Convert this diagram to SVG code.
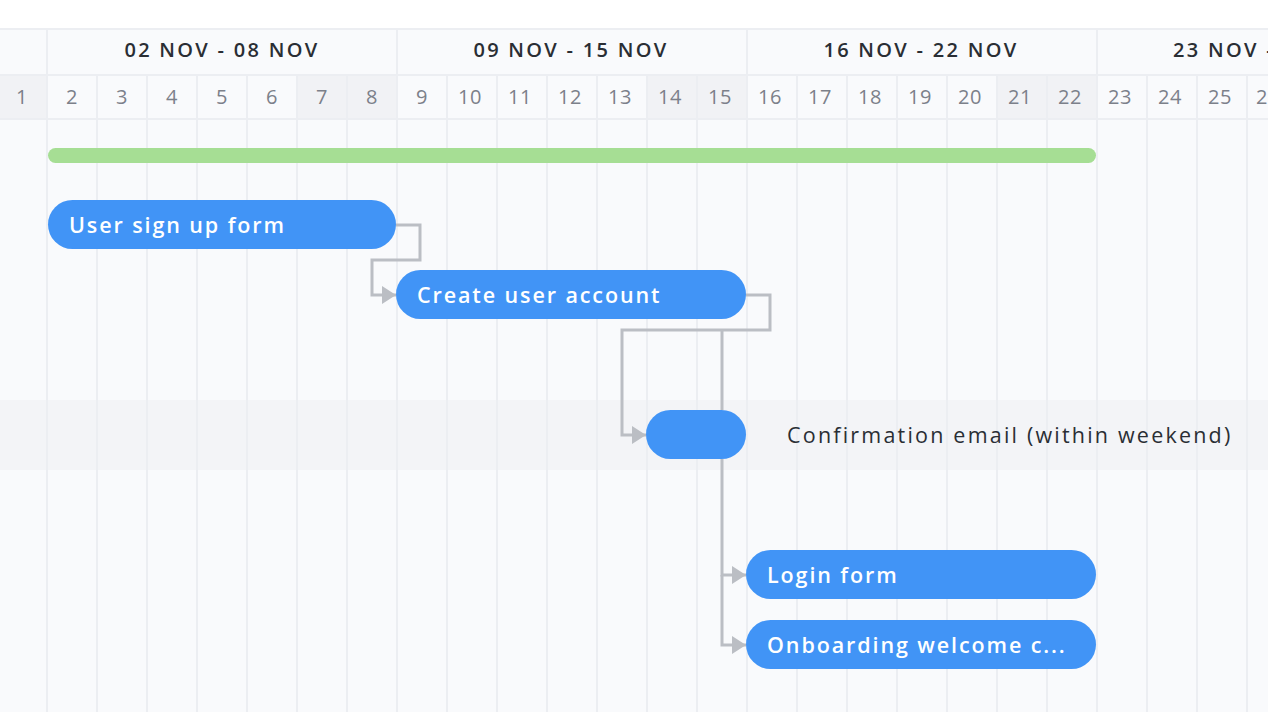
<svg xmlns="http://www.w3.org/2000/svg" width="1268" height="712" viewBox="0 0 1268 712">
<defs>
<style>
.grid{stroke:#eceef2;stroke-width:2}
.wk{font-family:"Open Sans","Liberation Sans",sans-serif;font-size:20px;font-weight:600;fill:#2a2e34;text-anchor:middle;letter-spacing:2.3px}
.day{font-family:"Open Sans","Liberation Sans",sans-serif;font-size:20px;fill:#7c808a;text-anchor:middle;letter-spacing:0.5px}
.bar{fill:#4194f6}
.lbl{font-family:"Open Sans","Liberation Sans",sans-serif;font-size:21.5px;font-weight:600;fill:#ffffff;letter-spacing:1.9px}
.ext{font-family:"Open Sans","Liberation Sans",sans-serif;font-size:21.5px;fill:#2a2e34;letter-spacing:2.2px}
.con{fill:none;stroke:#bbbec4;stroke-width:3}
</style>
<marker id="ah" viewBox="0 0 14 18" refX="14" refY="9" markerWidth="14" markerHeight="18" markerUnits="userSpaceOnUse" orient="auto"><path d="M0,0 L14,9 L0,18 Z" fill="#bbbec4"/></marker>
</defs>
<rect width="1268" height="712" fill="#f9fafc"/>
<rect width="1268" height="29" fill="#ffffff"/>
<rect y="400" width="1268" height="70" fill="#f3f4f7"/>
<g id="header">
<rect x="0" y="75" width="47" height="44" fill="#f1f2f5"/>
<rect x="297" y="75" width="100" height="44" fill="#f1f2f5"/>
<rect x="647" y="75" width="100" height="44" fill="#f1f2f5"/>
<rect x="997" y="75" width="100" height="44" fill="#f1f2f5"/>
<line class="grid" x1="0" y1="29" x2="1268" y2="29"/>
<line class="grid" x1="0" y1="75" x2="1268" y2="75"/>
<line class="grid" x1="0" y1="119" x2="1268" y2="119"/>
<line class="grid" x1="47" y1="29" x2="47" y2="75"/>
<line class="grid" x1="397" y1="29" x2="397" y2="75"/>
<line class="grid" x1="747" y1="29" x2="747" y2="75"/>
<line class="grid" x1="1097" y1="29" x2="1097" y2="75"/>
<text class="wk" x="222" y="57">02 NOV - 08 NOV</text>
<text class="wk" x="571" y="57">09 NOV - 15 NOV</text>
<text class="wk" x="921" y="57">16 NOV - 22 NOV</text>
<text class="wk" x="1173" y="57" style="text-anchor:start">23 NOV -</text>
<g class="day">
<text x="22" y="104">1</text><text x="72" y="104">2</text><text x="122" y="104">3</text><text x="172" y="104">4</text><text x="222" y="104">5</text><text x="272" y="104">6</text><text x="322" y="104">7</text><text x="372" y="104">8</text><text x="422" y="104">9</text><text x="470" y="104">10</text><text x="520" y="104">11</text><text x="570" y="104">12</text><text x="620" y="104">13</text><text x="670" y="104">14</text><text x="720" y="104">15</text><text x="770" y="104">16</text><text x="820" y="104">17</text><text x="870" y="104">18</text><text x="920" y="104">19</text><text x="970" y="104">20</text><text x="1020" y="104">21</text><text x="1070" y="104">22</text><text x="1120" y="104">23</text><text x="1170" y="104">24</text><text x="1220" y="104">25</text><text x="1256" y="104" style="text-anchor:start">2</text>
</g>
</g>
<g id="grid">
<path class="grid" d="M47 75V712M97 75V712M147 75V712M197 75V712M247 75V712M297 75V712M347 75V712M397 75V712M447 75V712M497 75V712M547 75V712M597 75V712M647 75V712M697 75V712M747 75V712M797 75V712M847 75V712M897 75V712M947 75V712M997 75V712M1047 75V712M1097 75V712M1147 75V712M1197 75V712M1247 75V712"/>
</g>
<g id="connectors">
<path class="con" d="M396 225H420V260H372V295H396" marker-end="url(#ah)"/>
<path class="con" d="M746 295H770V330H622V435H646" marker-end="url(#ah)"/>
<path class="con" d="M722 330V410"/>
<path class="con" d="M722 459V575H746" marker-end="url(#ah)"/>
<path class="con" d="M722 575V645H746" marker-end="url(#ah)"/>
</g>
<g id="summary"><rect x="48" y="148" width="1048" height="15" rx="7.5" fill="#a6de94"/></g>
<g id="signup"><rect class="bar" x="48" y="200" width="348" height="49" rx="24.5"/><text class="lbl" x="69" y="233">User sign up form</text></g>
<g id="create"><rect class="bar" x="396" y="270" width="350" height="49" rx="24.5"/><text class="lbl" x="417" y="303">Create user account</text></g>
<g id="confirm"><rect class="bar" x="646" y="410" width="100" height="49" rx="24.5"/><text class="ext" x="787" y="443">Confirmation email (within weekend)</text></g>
<g id="login"><rect class="bar" x="746" y="550" width="350" height="49" rx="24.5"/><text class="lbl" x="767" y="583">Login form</text></g>
<g id="onboard"><rect class="bar" x="746" y="620" width="350" height="49" rx="24.5"/><text class="lbl" x="767" y="653">Onboarding welcome c...</text></g>
</svg>
